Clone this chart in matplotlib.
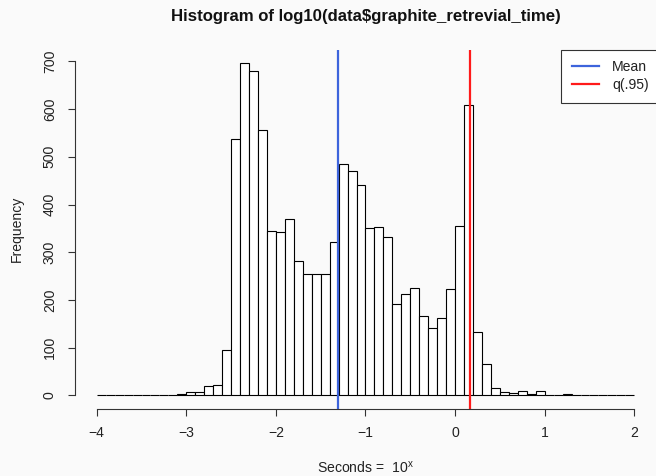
import numpy as np
import matplotlib
matplotlib.use("Agg")
import matplotlib.pyplot as plt

plt.rcParams['font.family'] = ['Liberation Sans', 'DejaVu Sans']
plt.rcParams['mathtext.fontset'] = 'custom'
plt.rcParams['mathtext.rm'] = 'Liberation Sans'
plt.rcParams['mathtext.it'] = 'Liberation Sans'

# ---- data ----
bin_edges = np.round(np.arange(-4.0, 2.0001, 0.1), 1)
counts = [0, 0, 0, 0, 0, 0, 0, 0, 0, 2,
          6, 6, 20, 21, 96, 537, 697, 680, 557, 344,
          343, 370, 281, 255, 255, 255, 321, 486, 470, 440,
          351, 353, 331, 192, 212, 225, 167, 141, 162, 222,
          356, 609, 132, 66, 16, 6, 4, 10, 2, 8,
          0, 1, 2, 1, 1, 0, 0, 0, 0, 0]
mean_val = -1.31
q95_val = 0.168
x_ticks = [-4, -3, -2, -1, 0, 1, 2]
y_ticks = [0, 100, 200, 300, 400, 500, 600, 700]
title = "Histogram of log10(data$graphite_retrevial_time)"
legend_labels = ["Mean", "q(.95)"]

W, H = 656, 476
bg = '#fafafa'
fs = 10.1
fig = plt.figure(figsize=(W / 100, H / 100), dpi=100, facecolor=bg)
left, right, top, bottom = 75.2, 655.8, 49.6, 408.6
ax = fig.add_axes([left / W, 1 - bottom / H, (right - left) / W, (bottom - top) / H])
ax.set_facecolor(bg)

centers = (bin_edges[:-1] + bin_edges[1:]) / 2
ax.hist(centers, bins=bin_edges, weights=counts, histtype='bar',
        facecolor='white', edgecolor='black', linewidth=0.8)

ymax = max(counts)
ax.set_xlim(-4 - 0.04 * 6, 2 + 0.04 * 6)
ax.set_ylim(-0.04 * ymax, ymax * 1.04)

l1 = ax.axvline(mean_val, color='#3d64dc', lw=1.6)
l2 = ax.axvline(q95_val, color='#ff1a1a', lw=1.6)

for s in ['top', 'right']:
    ax.spines[s].set_visible(False)
ax.spines['left'].set_bounds(0, 700)
ax.spines['bottom'].set_bounds(-4, 2)
for s in ['left', 'bottom']:
    ax.spines[s].set_linewidth(0.8)
    ax.spines[s].set_color('#333333')

ax.set_xticks(x_ticks)
ax.set_xticklabels(["\u2212" + str(-t) if t < 0 else str(t) for t in x_ticks])
ax.set_yticks(y_ticks)
ax.set_yticklabels([str(t) for t in y_ticks], rotation=90, va='center')
ax.tick_params(axis='both', length=5.2, width=0.8, color='#333333',
               labelsize=fs, labelcolor='#222222')
ax.tick_params(axis='x', pad=7.0)
ax.tick_params(axis='y', pad=8.0)

fig.text(365.5 / W, 1 - 16 / H, title, ha='center', va='center',
         fontsize=12.1, fontweight='bold', color='#111111')
fig.text(365.5 / W, 1 - 468 / H, "Seconds =  10$^{\\mathrm{x}}$", ha='center', va='center',
         fontsize=fs, color='#222222')
fig.text(17 / W, 1 - 229 / H, "Frequency", ha='center', va='center',
         rotation=90, fontsize=fs, color='#222222')

leg = ax.legend([l1, l2], legend_labels, loc='upper left',
                bbox_to_anchor=(561 / W, 1 - 49.6 / H), bbox_transform=fig.transFigure,
                borderaxespad=0, fancybox=False, framealpha=1, fontsize=fs,
                handlelength=1.95, handletextpad=0.93, labelspacing=0.3,
                borderpad=0.75, facecolor='white')
leg.get_frame().set_edgecolor('#333333')
leg.get_frame().set_linewidth(0.8)
for t in leg.get_texts():
    t.set_color('#222222')

fig.savefig("out.png", dpi=100, facecolor=bg)
